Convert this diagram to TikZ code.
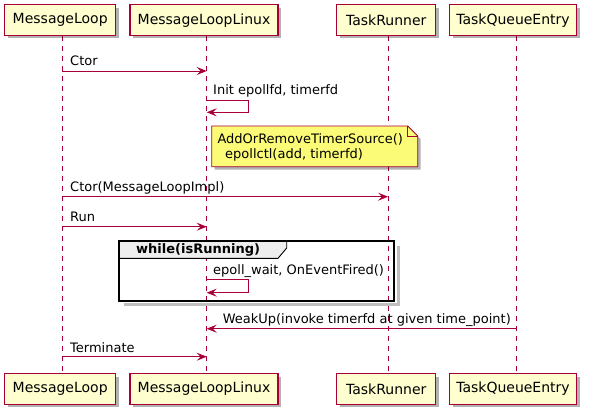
\documentclass[tikz,border=0pt]{standalone}
\usepackage{fontspec}
\setmainfont{DejaVu Sans}
\usetikzlibrary{arrows.meta,shadows}
\definecolor{pline}{HTML}{A80036}
\definecolor{pfill}{HTML}{FEFECE}
\definecolor{nfill}{HTML}{FBFB77}
\definecolor{tabfill}{HTML}{EEEEEE}
\tikzset{
  part/.style={draw=pline, fill=pfill, line width=1.1pt, inner sep=0pt, minimum height=30.5pt,
    font=\fontsize{14}{16}\selectfont,
    drop shadow={shadow xshift=3pt, shadow yshift=-3pt, opacity=0.3, fill=black}},
  lifeline/.style={draw=pline, line width=0.9pt, dash pattern=on 5pt off 5pt},
  msg/.style={draw=pline, line width=0.9pt, -{Stealth[length=10pt,width=8pt,inset=4pt]}},
  msgtext/.style={anchor=base west, inner sep=0pt, font=\fontsize{13}{15}\selectfont},
  notebox/.style={draw=pline, fill=nfill, line width=0.9pt},
}
\begin{document}
\begin{tikzpicture}[x=1pt,y=-1pt]
\useasboundingbox (0,0) rectangle (593,417);
\fill[white] (0,0) rectangle (593,417);

% lifeline coordinates
\coordinate (L1t) at (62,36); \coordinate (L1b) at (62,373);
\coordinate (L2t) at (206.7,36); \coordinate (L2b) at (206.7,373);
\coordinate (L3t) at (388,36); \coordinate (L3b) at (388,373);
\coordinate (L4t) at (516.7,36); \coordinate (L4b) at (516.7,373);

\draw[lifeline] (L1t) -- (L1b);
\draw[lifeline] (L2t) -- (L2b);
\draw[lifeline] (L3t) -- (L3b);
\draw[lifeline] (L4t) -- (L4b);

% participants
\node[part, minimum width=111pt] (top1) at (60.2,20.2) {MessageLoop};
\node[part, minimum width=148pt] (top2) at (204,20.2) {MessageLoopLinux};
\node[part, minimum width=99pt] (top3) at (386.2,20.2) {TaskRunner};
\node[part, minimum width=127pt] (top4) at (513,20.2) {TaskQueueEntry};
\node[part, minimum width=111pt] (bot1) at (60.2,388.8) {MessageLoop};
\node[part, minimum width=148pt] (bot2) at (204,388.8) {MessageLoopLinux};
\node[part, minimum width=99pt] (bot3) at (386.2,388.8) {TaskRunner};
\node[part, minimum width=127pt] (bot4) at (513,388.8) {TaskQueueEntry};

% Ctor
\coordinate (m1s) at (62,71); \coordinate (m1e) at (206.7,71);
\draw[msg] (m1s) -- (m1e);
\node[msgtext] (t1) at (70,66) {Ctor};

% Init self
\coordinate (m2s) at (206.7,100.7); \coordinate (m2e) at (206.7,112.3);
\draw[msg] (m2s) -- ++(42,0) -- ++(0,11.6) -- (m2e);
\node[msgtext] (t2) at (213,94.5) {Init epollfd, timerfd};

% Note
\path[notebox, drop shadow={shadow xshift=3pt, shadow yshift=-3pt, opacity=0.3, fill=black}]
  (211.7,126) -- (407.7,126) -- (417.7,136) -- (417.7,166.7) -- (211.7,166.7) -- cycle;
\draw[pline, line width=0.9pt] (407.7,126) -- (407.7,136) -- (417.7,136);
\node[msgtext] (n1) at (217.3,143.3) {AddOrRemoveTimerSource()};
\node[msgtext] (n2) at (225,158.3) {epollctl(add, timerfd)};

% Ctor(MessageLoopImpl)
\coordinate (m3s) at (62,196.7); \coordinate (m3e) at (388,196.7);
\draw[msg] (m3s) -- (m3e);
\node[msgtext] (t3) at (70,191.5) {Ctor(MessageLoopImpl)};

% Run
\coordinate (m4s) at (62,226.7); \coordinate (m4e) at (206.7,226.7);
\draw[msg] (m4s) -- (m4e);
\node[msgtext] (t4) at (70,221.5) {Run};

% while frame (shadow as offset outline on right and bottom)
\draw[black, opacity=0.25, line width=3pt] (398,246) -- (398,304.5) -- (124,304.5);
\filldraw[fill=tabfill, draw=black, line width=0.9pt]
  (119.3,241) -- (286.7,241) -- (286.7,248) -- (278,258.3) -- (119.3,258.3) -- cycle;
\draw[black, line width=2.2pt] (119.3,241) rectangle (394.3,300.7);
\node[msgtext, font=\fontsize{13}{15}\selectfont\bfseries] (wt) at (136,253.3) {while(isRunning)};

% epoll self
\coordinate (m5s) at (206.7,279.3); \coordinate (m5e) at (206.7,292.7);
\draw[msg] (m5s) -- ++(41.6,0) -- ++(0,13.4) -- (m5e);
\node[msgtext] (t5) at (213,274) {epoll\_wait, OnEventFired()};

% WeakUp
\coordinate (m6s) at (516.7,328.7); \coordinate (m6e) at (206.7,328.7);
\draw[msg] (m6s) -- (m6e);
\node[msgtext] (t6) at (222.6,323) {WeakUp(invoke timerfd at given time\_point)};

% Terminate
\coordinate (m7s) at (62,356.7); \coordinate (m7e) at (206.7,356.7);
\draw[msg] (m7s) -- (m7e);
\node[msgtext] (t7) at (70,352) {Terminate};
\end{tikzpicture}
\end{document}
